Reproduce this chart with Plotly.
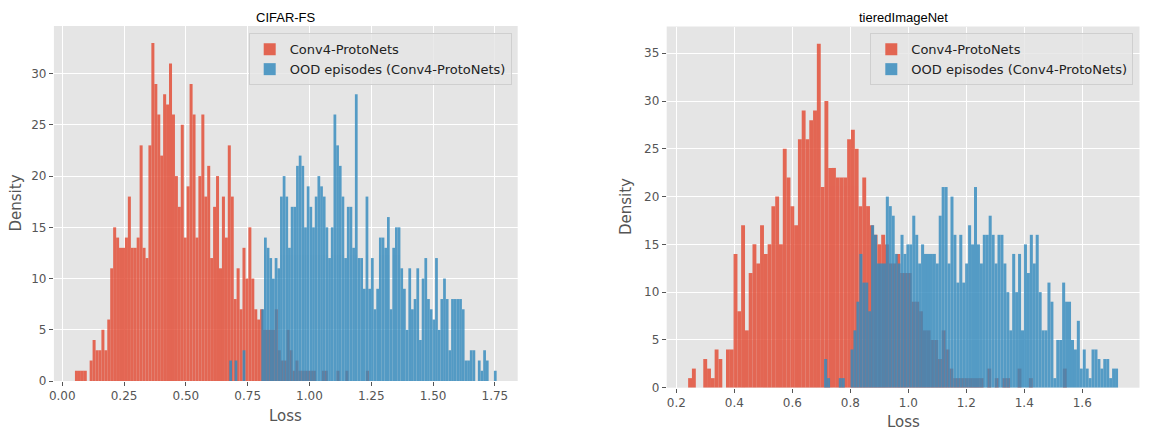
import plotly.graph_objects as go

# ---------------- data (counts per histogram bin) ----------------
# CIFAR-FS panel
cifar_id_start = 0.0514
cifar_id_width = 0.01189
cifar_id_counts = [
    1, 1, 1, 1, 0, 2, 4, 3, 3, 5,
    3, 6, 11, 15, 14, 13, 13, 14, 18, 13,
    13, 14, 23, 13, 12, 23, 33, 29, 26, 22,
    28, 27, 31, 26, 20, 17, 25, 14, 19, 29,
    26, 14, 20, 26, 18, 21, 12, 17, 20, 11,
    18, 14, 23, 18, 8, 11, 7, 13, 10, 15,
    10, 7, 6, 7, 5, 5, 5, 5, 7, 3,
    2, 2, 5, 3, 1, 2, 1, 1, 1, 1,
    1, 1, 0, 0, 1, 1, 0, 0, 0, 1,
    0, 0, 1, 0, 0, 0, 0, 0, 0, 1,
]
cifar_ood_start = 0.6756
cifar_ood_width = 0.010814
cifar_ood_counts = [
    2, 0, 2, 0, 0, 3, 0, 0, 0, 0,
    0, 0, 7, 14, 13, 12, 10, 12, 11, 18,
    20, 18, 13, 17, 17, 21, 22, 21, 15, 19,
    17, 15, 18, 20, 19, 18, 15, 12, 15, 26,
    23, 21, 18, 12, 17, 17, 13, 28, 12, 12,
    9, 18, 9, 12, 7, 9, 14, 14, 13, 16,
    7, 13, 15, 15, 11, 9, 5, 11, 7, 8,
    11, 4, 10, 12, 8, 7, 6, 12, 5, 8,
    10, 8, 3, 8, 8, 8, 8, 7, 2, 2,
    3, 3, 0, 2, 1, 3, 2, 0, 0, 1,
]

# tieredImageNet panel
tiered_id_start = 0.2407
tiered_id_width = 0.01306
tiered_id_counts = [
    1, 2, 0, 0, 3, 2, 1, 4, 3, 0,
    4, 4, 14, 8, 17, 6, 12, 15, 13, 17,
    14, 15, 19, 20, 15, 25, 22, 19, 17, 26,
    29, 26, 28, 29, 36, 21, 30, 23, 23, 22,
    22, 22, 26, 27, 25, 19, 22, 19, 17, 16,
    15, 16, 15, 13, 13, 14, 12, 12, 12, 9,
    9, 8, 6, 6, 5, 5, 3, 6, 4, 2,
    1, 1, 1, 1, 1, 1, 1, 1, 0, 2,
    0, 1, 0, 1, 1, 0, 0, 2, 0, 0,
    1, 0, 0, 0, 0, 0, 0, 0, 0, 2,
]
tiered_ood_start = 0.7097
tiered_ood_width = 0.010137
tiered_ood_counts = [
    3, 1, 0, 0, 0, 1, 1, 0, 0, 4,
    6, 9, 14, 11, 11, 8, 17, 16, 13, 13,
    13, 20, 19, 18, 14, 13, 16, 14, 15, 15,
    18, 16, 13, 15, 14, 14, 14, 14, 13, 18,
    21, 21, 13, 20, 16, 11, 16, 11, 13, 17,
    15, 21, 15, 13, 16, 16, 18, 16, 13, 16,
    16, 13, 10, 6, 14, 10, 14, 6, 15, 12,
    16, 13, 16, 10, 6, 6, 11, 9, 1, 5,
    5, 11, 9, 9, 5, 4, 7, 2, 4, 2,
    1, 4, 4, 3, 2, 3, 3, 1, 2, 2,
]

series_names = ["Conv4-ProtoNets", "OOD episodes (Conv4-ProtoNets)"]
panel_titles = ["CIFAR-FS", "tieredImageNet"]
x_label = "Loss"
y_label = "Density"

# ---------------- style ----------------
RED = "#E24A33"
BLUE = "#348ABD"
ALPHA = 0.82
BG = "#E5E5E5"
TICK = "#555555"
W, H = 1149, 430
BAR_FILL = 1.03   # slight overlap so adjacent bins render without seams


def centers(start, width, counts):
    return [start + (i + 0.5) * width for i in range(len(counts))]


fig = go.Figure()

panels = [
    ("x", "y", "legend", (cifar_id_start, cifar_id_width, cifar_id_counts),
     (cifar_ood_start, cifar_ood_width, cifar_ood_counts)),
    ("x2", "y2", "legend2", (tiered_id_start, tiered_id_width, tiered_id_counts),
     (tiered_ood_start, tiered_ood_width, tiered_ood_counts)),
]

for xa, ya, leg, red, blue in panels:
    for (start, width, counts), color, name in zip((red, blue), (RED, BLUE), series_names):
        fig.add_trace(go.Bar(
            x=centers(start, width, counts), y=counts, width=width * BAR_FILL,
            marker=dict(color=color, line=dict(width=0)),
            opacity=ALPHA, name=name, xaxis=xa, yaxis=ya, legend=leg,
            hoverinfo="x+y",
        ))

# panel geometry in pixels
L1, R1, T1, B1 = 53.9, 517.7, 26.0, 381.0
L2, R2, T2, B2 = 666.7, 1139.5, 26.5, 387.7

axis_common = dict(
    showgrid=True, gridcolor="white", gridwidth=1, zeroline=False,
    showline=False, ticks="outside", ticklen=4, tickcolor=TICK, tickwidth=1,
    tickfont=dict(family="DejaVu Sans", size=12, color=TICK), automargin=False,
)

legend_common = dict(
    xanchor="right", yanchor="top",
    bgcolor="rgba(229,229,229,0.8)", bordercolor="#CFCFCF", borderwidth=1,
    font=dict(family="DejaVu Sans", size=13, color="#222222"), tracegroupgap=0,
)

fig.update_layout(
    width=W, height=H,
    margin=dict(l=0, r=0, t=0, b=0),
    paper_bgcolor="white", plot_bgcolor=BG,
    barmode="overlay", showlegend=True,
    xaxis=dict(domain=[L1 / W, R1 / W], range=[-0.0339, 1.8423], tick0=0, dtick=0.25,
               tickformat=".2f", anchor="y", **axis_common),
    yaxis=dict(domain=[1 - B1 / H, 1 - T1 / H], range=[0, 34.65], tick0=0, dtick=5,
               anchor="x", **axis_common),
    xaxis2=dict(domain=[L2 / W, R2 / W], range=[0.1666, 1.7975], tick0=0.2, dtick=0.2,
                tickformat=".1f", anchor="y2", **axis_common),
    yaxis2=dict(domain=[1 - B2 / H, 1 - T2 / H], range=[0, 37.8], tick0=0, dtick=5,
                anchor="x2", **axis_common),
    legend=dict(x=511.7 / W, y=1 - 33.3 / H, **legend_common),
    legend2=dict(x=1133.3 / W, y=1 - 33.3 / H, **legend_common),
)

ann = []
# titles
for title, (l, r) in zip(panel_titles, [(L1, R1), (L2, R2)]):
    ann.append(dict(text=title, x=(l + r) / 2 / W, y=1 - 18 / H, xref="paper", yref="paper",
                    xanchor="center", yanchor="middle", showarrow=False,
                    font=dict(family="Liberation Sans, Arial", size=13, color="black")))
# axis labels
for (cx, cy) in [((L1 + R1) / 2, 416), ((L2 + R2) / 2, 422)]:
    ann.append(dict(text=x_label, x=cx / W, y=1 - cy / H, xref="paper", yref="paper",
                    xanchor="center", yanchor="middle", showarrow=False,
                    font=dict(family="DejaVu Sans", size=15, color=TICK)))
for (cx, cy) in [(15, (T1 + B1) / 2), (626, (T2 + B2) / 2)]:
    ann.append(dict(text=y_label, x=cx / W, y=1 - cy / H, xref="paper", yref="paper",
                    xanchor="center", yanchor="middle", showarrow=False, textangle=-90,
                    font=dict(family="DejaVu Sans", size=15, color=TICK)))
fig.update_layout(annotations=ann)

fig.write_html(
    "out.html",
    config={"displayModeBar": False},
    post_script="document.body.style.margin='0px';document.body.style.overflow='hidden';",
)
